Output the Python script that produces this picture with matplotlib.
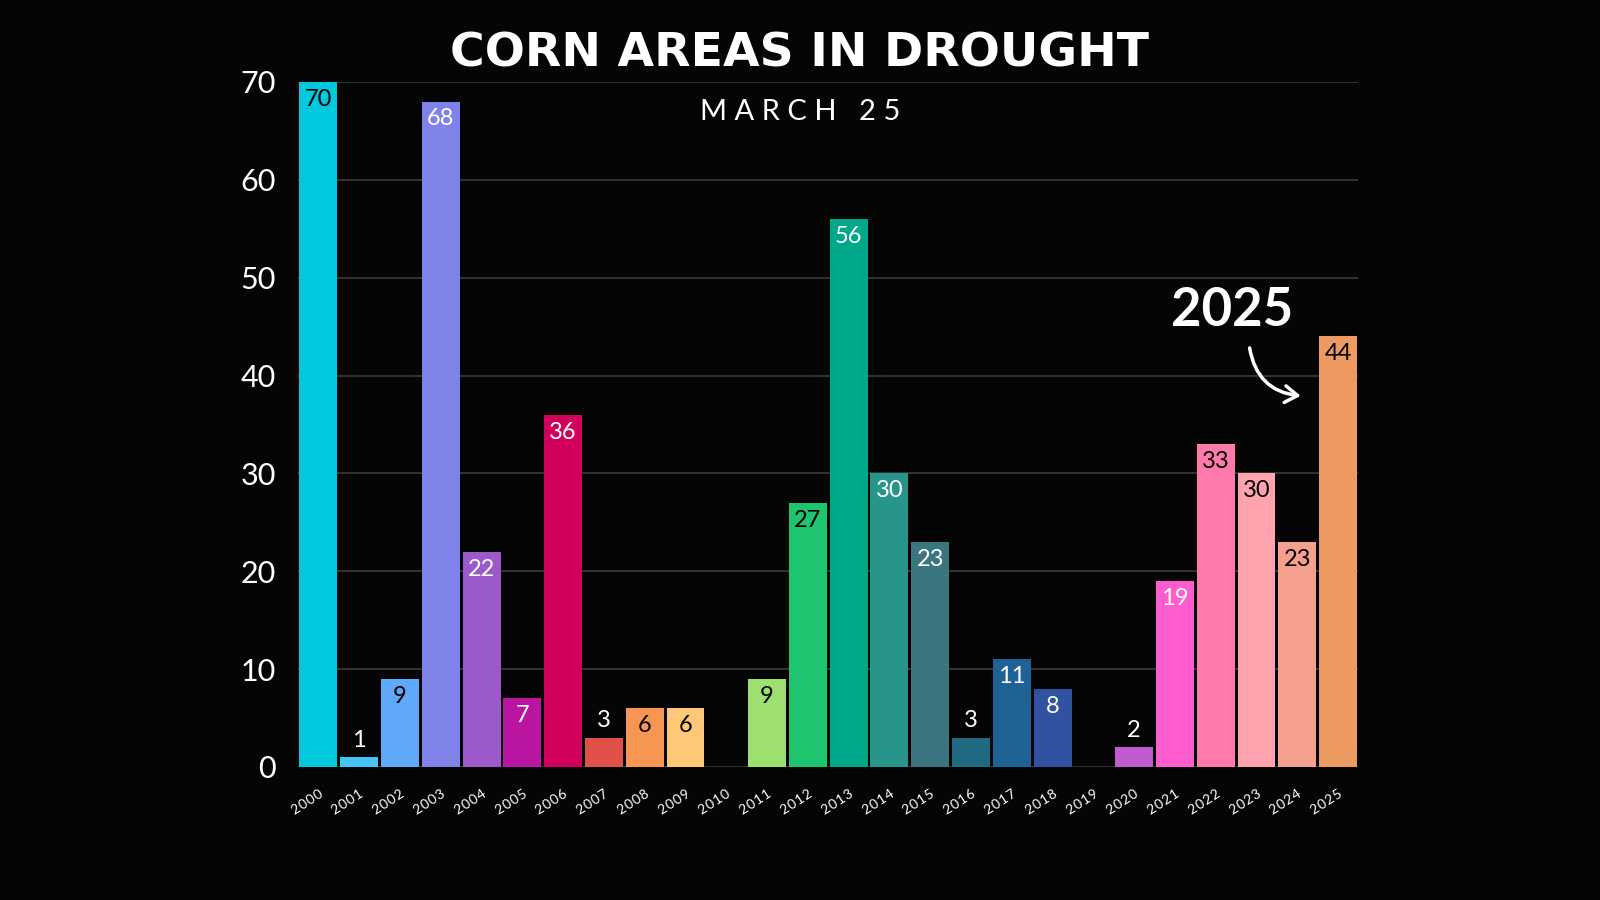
import numpy as np
import matplotlib.pyplot as plt
from matplotlib.patches import FancyArrowPatch


years = list(range(2000, 2026))
drought = [70, 1, 9, 68, 22, 7, 36, 3, 6, 6, 0, 9, 27, 56, 30, 23, 3, 11, 8, 0, 2, 19, 33, 30, 23, 44]
bar_colors = ['#00C9DE', '#45C3F5', '#60A8FA', '#7F82E8', '#9B59C9', '#BA15A0', '#D1005C',
              '#DE5048', '#F79552', '#FFC878', '#000000', '#9DE070', '#1FC46E', '#00A88A',
              '#27958A', '#3B7680', '#216A82', '#1E6296', '#3152A0', '#000000', '#BF5ACF',
              '#FF5CCF', '#FF7AAB', '#FFA3AE', '#F5A08E', '#EC9A62']
dark_label_years = [2000, 2002, 2008, 2009, 2011, 2012, 2022, 2023, 2024, 2025]

bg = '#050505'
plt.rcParams['font.family'] = ['Lato', 'DejaVu Sans']

fig = plt.figure(figsize=(16, 9), dpi=100, facecolor=bg)
ax = fig.add_axes([0.18625, 0.1478, 0.6628, 0.7611], facecolor=bg)

x = np.arange(len(years))
ax.bar(x, drought, width=0.93, color=bar_colors, zorder=2)

ax.set_xlim(-0.5, len(years) - 0.5)
ax.set_ylim(0, 70)
ax.set_yticks(range(0, 71, 10))
ax.tick_params(axis='y', length=0, pad=16, labelsize=22, labelcolor='white')
ax.set_xticks(x)
# spaced-out year labels
ax.set_xticklabels(['\u200a'.join(str(y)) for y in years], rotation=33, ha='right', va='top',
                   rotation_mode='anchor', fontsize=10, color='white')
ax.tick_params(axis='x', length=0, pad=15)
ax.yaxis.grid(True, color='#3a3a3a', linewidth=1.2, zorder=0)
for s in ax.spines.values():
    s.set_visible(False)

# value labels: inside the top of tall bars, above short ones
for xi, yr, v in zip(x, years, drought):
    if v == 0:
        continue
    color = 'black' if yr in dark_label_years else 'white'
    if v <= 3:
        ax.annotate(str(v), (xi, v), xytext=(0, 12), textcoords='offset points',
                    ha='center', va='center', fontsize=17, color='white')
    else:
        ax.annotate(str(v), (xi, v), xytext=(0, -12.5), textcoords='offset points',
                    ha='center', va='center', fontsize=17, color=color)

fig.text(0.5, 0.94, 'CORN AREAS IN DROUGHT', ha='center', va='center',
         fontsize=34, fontweight='black', color='white', family=['DejaVu Sans'])
fig.text(0.5, 0.876, ' '.join('MARCH') + '   ' + ' '.join('25'), ha='center', va='center',
         fontsize=21, color='white')

ax.text(22.4, 46.6, '2025', ha='center', va='center', fontsize=38,
        fontweight='bold', color='white')
arrow = FancyArrowPatch((22.82, 43.1), (24.15, 37.9), connectionstyle='arc3,rad=0.4',
                        arrowstyle='->,head_length=9,head_width=6', color='white',
                        linewidth=2.5, zorder=3)
ax.add_patch(arrow)

fig.savefig('out.png', facecolor=bg)
